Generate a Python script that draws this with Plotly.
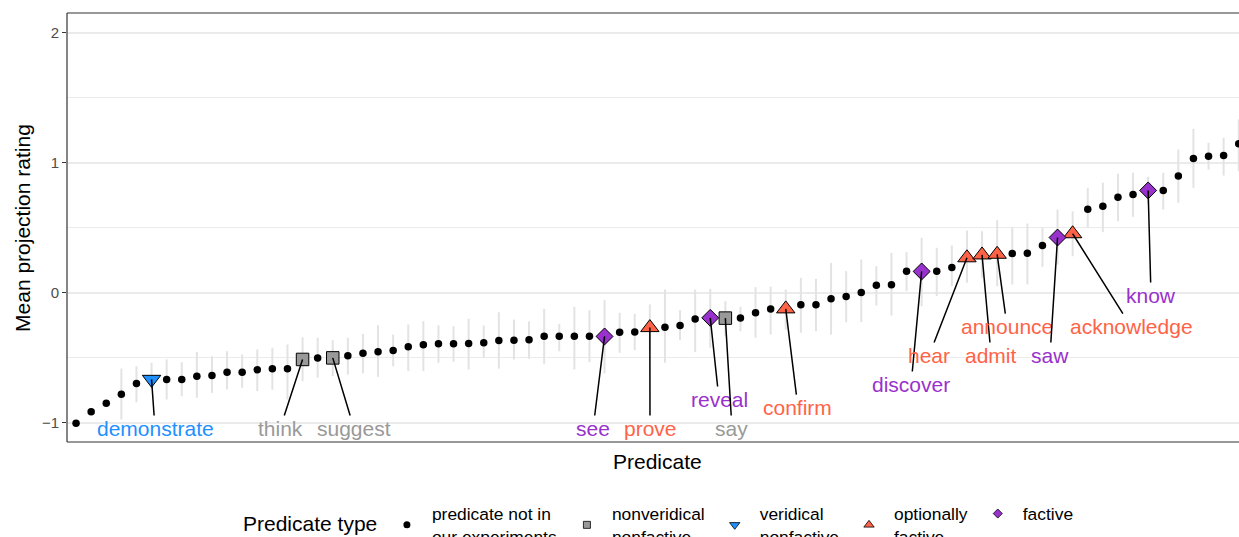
import plotly.graph_objects as go

# Mean projection rating per predicate, sorted from lowest to highest
mean_rating = [
    -1.005, -0.918, -0.851, -0.782, -0.700, -0.668, -0.669, -0.669, -0.644, -0.638,
    -0.613, -0.613, -0.595, -0.586, -0.587, -0.515, -0.503, -0.503, -0.487, -0.467,
    -0.456, -0.446, -0.418, -0.402, -0.395, -0.395, -0.392, -0.387, -0.369, -0.367,
    -0.364, -0.336, -0.336, -0.336, -0.336, -0.338, -0.305, -0.303, -0.270, -0.267,
    -0.254, -0.203, -0.195, -0.197, -0.197, -0.156, -0.126, -0.126, -0.095, -0.095,
    -0.049, -0.031, 0.000, 0.055, 0.059, 0.164, 0.162, 0.164, 0.192, 0.267,
    0.289, 0.294, 0.300, 0.302, 0.362, 0.423, 0.452, 0.641, 0.664, 0.733,
    0.754, 0.785, 0.785, 0.897, 1.031, 1.049, 1.054, 1.144,
]

# Upper and lower ends of the confidence intervals
ci_high = [
    -1.005, -0.918, -0.851, -0.585, -0.567, -0.541, -0.515, -0.536, -0.456, -0.490,
    -0.452, -0.477, -0.438, -0.425, -0.400, -0.344, -0.348, -0.367, -0.348, -0.318,
    -0.252, -0.323, -0.246, -0.221, -0.252, -0.259, -0.202, -0.254, -0.152, -0.208,
    -0.221, -0.125, -0.241, -0.110, -0.136, -0.059, -0.156, -0.164, -0.092, 0.023,
    -0.136, 0.023, 0.028, -0.067, -0.110, 0.041, 0.044, 0.023, 0.113, 0.105,
    0.228, 0.164, 0.254, 0.202, 0.305, 0.310, 0.421, 0.344, 0.362, 0.477,
    0.472, 0.556, 0.498, 0.531, 0.498, 0.638, 0.625, 0.805, 0.844, 0.913,
    0.921, 0.890, 0.921, 1.100, 1.259, 1.152, 1.190, 1.331,
]
ci_low = [
    -1.005, -0.918, -0.851, -0.977, -0.844, -0.746, -0.823, -0.798, -0.810, -0.772,
    -0.746, -0.733, -0.759, -0.748, -0.823, -0.682, -0.656, -0.644, -0.631, -0.623,
    -0.648, -0.567, -0.605, -0.605, -0.541, -0.533, -0.592, -0.502, -0.585, -0.515,
    -0.510, -0.548, -0.452, -0.592, -0.536, -0.623, -0.464, -0.444, -0.450, -0.541,
    -0.367, -0.459, -0.425, -0.336, -0.298, -0.348, -0.323, -0.285, -0.310, -0.298,
    -0.323, -0.228, -0.228, -0.100, -0.177, 0.010, -0.105, -0.028, 0.048, 0.075,
    0.113, 0.048, 0.062, 0.062, 0.198, 0.215, 0.279, 0.498, 0.464, 0.548,
    0.582, 0.680, 0.638, 0.690, 0.805, 0.946, 0.900, 0.933,
]

# Predicates from our experiments: name, rank position and type
exp_names = ["demonstrate", "think", "suggest", "see", "prove", "reveal", "say",
             "confirm", "discover", "hear", "admit", "announce", "saw",
             "acknowledge", "know"]
exp_rank = [5, 15, 17, 35, 38, 42, 43, 47, 56, 59, 60, 61, 65, 66, 71]
exp_type = ["veridical nonfactive", "nonveridical nonfactive", "nonveridical nonfactive",
            "factive", "optionally factive", "factive", "nonveridical nonfactive",
            "optionally factive", "factive", "optionally factive", "optionally factive",
            "optionally factive", "factive", "optionally factive", "factive"]

# Where each repelled label sits (axis units)
label_x = [5.23, 13.51, 18.41, 34.24, 38.01, 42.58, 43.44, 47.81, 55.30, 56.49,
           60.60, 61.66, 64.50, 69.87, 71.19]
label_y = [-1.046, -1.046, -1.046, -1.046, -1.046, -0.823, -1.046, -0.885, -0.708,
           -0.485, -0.485, -0.262, -0.485, -0.262, -0.023]

legend_names = {
    "other": "predicate not in<br>our experiments",
    "nonveridical nonfactive": "nonveridical<br>nonfactive",
    "veridical nonfactive": "veridical<br>nonfactive",
    "optionally factive": "optionally<br>factive",
    "factive": "factive",
}
type_style = {
    "nonveridical nonfactive": dict(symbol="square", size=12.5, fill="#999999", text="#999999"),
    "veridical nonfactive": dict(symbol="triangle-down", size=16, fill="#1E90FF", text="#1E90FF"),
    "optionally factive": dict(symbol="triangle-up", size=16, fill="#FF6347", text="#FF6347"),
    "factive": dict(symbol="diamond", size=13, fill="#9932CC", text="#9932CC"),
}
legend_key_size = {"nonveridical nonfactive": 7, "veridical nonfactive": 9,
                   "optionally factive": 9, "factive": 7}

FONT = "Liberation Sans, Arial, sans-serif"
n = len(mean_rating)
xs = list(range(n))

fig = go.Figure()

# Confidence intervals for every predicate
fig.add_trace(go.Scatter(
    x=xs, y=mean_rating, mode="markers",
    marker=dict(size=1, color="rgba(0,0,0,0)"),
    error_y=dict(type="data", symmetric=False,
                 array=[h - m for h, m in zip(ci_high, mean_rating)],
                 arrayminus=[m - l for m, l in zip(mean_rating, ci_low)],
                 thickness=2, width=0, color="#e3e3e3"),
    showlegend=False, hoverinfo="skip",
))

# Predicates not in our experiments
other = [i for i in xs if i not in exp_rank]
fig.add_trace(go.Scatter(
    x=other, y=[mean_rating[i] for i in other], mode="markers",
    marker=dict(size=7.5, color="black"), showlegend=False,
))

# Predicates from our experiments, by type
for t, st in type_style.items():
    idx = [r for r, tt in zip(exp_rank, exp_type) if tt == t]
    fig.add_trace(go.Scatter(
        x=idx, y=[mean_rating[i] for i in idx], mode="markers",
        marker=dict(symbol=st["symbol"], size=st["size"], color=st["fill"],
                    line=dict(color="black", width=1)),
        showlegend=False,
    ))

# Legend keys
fig.add_trace(go.Scatter(x=[None], y=[None], mode="markers", name=legend_names["other"],
                         marker=dict(size=7, color="black")))
for t, st in type_style.items():
    fig.add_trace(go.Scatter(
        x=[None], y=[None], mode="markers", name=legend_names[t],
        marker=dict(symbol=st["symbol"], size=legend_key_size[t], color=st["fill"],
                    line=dict(color="black", width=0.8)),
    ))

# Labels with connecting segments
for name, r, t, lx, ly in zip(exp_names, exp_rank, exp_type, label_x, label_y):
    fig.add_annotation(
        x=r, y=mean_rating[r], ax=lx, ay=ly, axref="x", ayref="y",
        text=name, showarrow=True, arrowhead=0, arrowwidth=1.5, arrowcolor="black",
        standoff=0, font=dict(family=FONT, size=21, color=type_style[t]["text"]),
    )

# Axis titles
fig.add_annotation(text="Predicate", xref="paper", yref="paper", x=0.5038, y=-0.0443,
                   xanchor="center", yanchor="middle", showarrow=False,
                   font=dict(family=FONT, size=21, color="black"))
fig.add_annotation(text="Mean projection rating", xref="paper", yref="paper",
                   x=-0.038, y=0.5, textangle=-90, xanchor="center", yanchor="middle",
                   showarrow=False, font=dict(family=FONT, size=21, color="black"))

# Legend title, placed to the left of the legend keys
fig.add_annotation(text="Predicate type", xref="paper", yref="paper", x=0.1485, y=-0.1911,
                   xanchor="left", yanchor="middle", showarrow=False,
                   font=dict(family=FONT, size=21, color="black"))

# Panel border (left, top, bottom)
for x0, y0, x1, y1 in [(0, 0, 0, 1), (0, 1, 1, 1), (0, 0, 1, 0)]:
    fig.add_shape(type="line", xref="paper", yref="paper", x0=x0, y0=y0, x1=x1, y1=y1,
                  line=dict(color="#333333", width=1.2))

fig.update_layout(
    width=1239, height=537,
    margin=dict(l=67, r=0, t=13, b=95, autoexpand=False),
    paper_bgcolor="white", plot_bgcolor="white",
    font=dict(family=FONT),
    xaxis=dict(range=[-0.6, 77.017], showticklabels=False, ticks="", showgrid=False,
               zeroline=False, showline=False),
    yaxis=dict(range=[-1.15, 2.15], tickvals=[-1, 0, 1, 2], ticks="outside", ticklen=4,
               tickwidth=1.1, tickcolor="#333333", showline=False, zeroline=False,
               tickfont=dict(family=FONT, size=15, color="#4d4d4d"),
               showgrid=True, gridcolor="#ebebeb", gridwidth=1.6,
               minor=dict(tickvals=[-0.5, 0.5, 1.5], showgrid=True, gridcolor="#ebebeb",
                          gridwidth=0.8, ticks="")),
    legend=dict(orientation="h", x=0.2687, xanchor="left", y=-0.194, yanchor="middle",
                font=dict(family=FONT, size=17.4, color="black"),
                itemwidth=40, bgcolor="rgba(0,0,0,0)", traceorder="normal"),
)

fig.write_html("out.html")
